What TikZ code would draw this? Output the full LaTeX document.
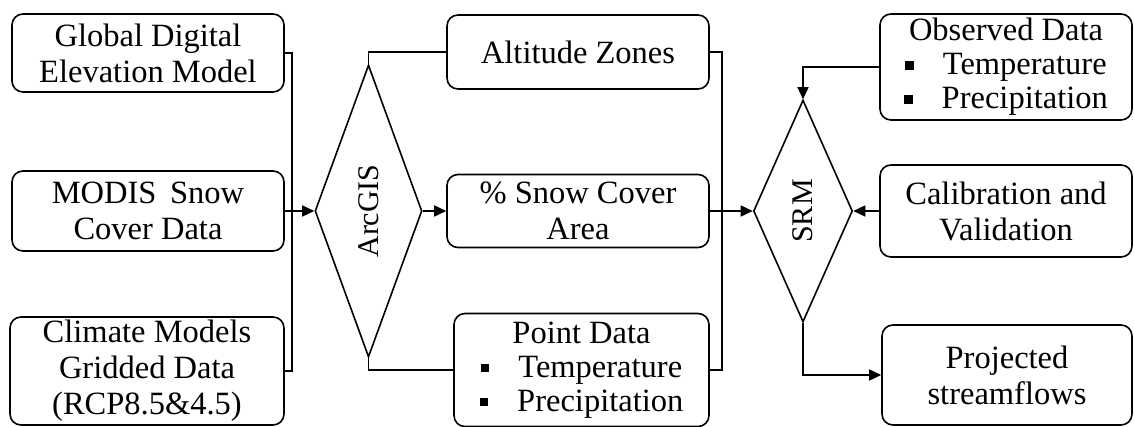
\documentclass[tikz,border=0pt]{standalone}
\usepackage{fontspec}
\setmainfont{Liberation Serif}
\usetikzlibrary{shapes.geometric,arrows.meta}
\newcommand{\bul}{\rule[5pt]{8.5pt}{8.5pt}\hspace{29pt}}
\tikzset{
  box/.style={draw, line width=1.6pt, rounded corners=11pt, inner sep=0pt, align=center,
    font=\fontsize{32.5}{36}\selectfont},
  bbox/.style={box, font=\fontsize{32.5}{34}\selectfont},
  dia/.style={draw, line width=1.6pt, shape=diamond, inner sep=0pt},
  dtext/.style={rotate=90, font=\fontsize{30}{34}\selectfont},
  conn/.style={line width=1.6pt},
  arr/.style={conn, -{Triangle[length=12pt,width=11pt]}}
}
\begin{document}
\begin{tikzpicture}[x=1pt,y=-1pt]
\useasboundingbox (0,0) rectangle (1134,427);
% left column
\node[box, minimum width=272pt, minimum height=78pt] (gdem) at (148,53) {Global Digital\\Elevation Model};
\node[box, minimum width=272pt, minimum height=80pt] (modis) at (148,211) {MODIS\, Snow\\Cover Data};
\node[box, minimum width=274pt, minimum height=108pt] (clim) at (147,371) {Climate Models\\Gridded Data\\(RCP8.5\&4.5)};
% ArcGIS
\node[dia, minimum width=107pt, minimum height=292pt] (arc) at (368.5,211) {};
\node[dtext] at (arc.center) {ArcGIS};
% middle column
\node[box, minimum width=262pt, minimum height=74pt] (alt) at (578,52) {Altitude Zones};
\node[box, minimum width=262pt, minimum height=73pt] (snow) at (578,211) {\% Snow Cover\\Area};
\node[bbox, minimum width=255pt, minimum height=113pt] (point) at (581.5,370) {Point Data\\\bul Temperature\\\bul Precipitation};
% SRM
\node[dia, minimum width=99pt, minimum height=222pt] (srm) at (803,211) {};
\node[dtext] at (srm.center) {SRM};
% right column
\node[bbox, minimum width=252pt, minimum height=106pt] (obs) at (1006,67) {Observed Data\\\bul Temperature\\\bul Precipitation};
\node[box, minimum width=252pt, minimum height=92pt] (cal) at (1006,211) {Calibration and\\Validation};
\node[box, minimum width=250pt, minimum height=100pt] (proj) at (1007,375) {Projected\\streamflows};
% connectors
\coordinate (b1) at (292,53);
\coordinate (b2) at (722,52);
\draw[conn] (gdem.east) -- (b1) |- (clim.east);
\draw[arr] (modis.east) -- (arc.west);
\draw[conn] (arc.north) |- (alt.west);
\draw[conn] (arc.south) |- (point.west);
\draw[arr] (arc.east) -- (snow.west);
\draw[conn] (alt.east) -- (b2) |- (point.east);
\draw[arr] (snow.east) -- (srm.west);
\draw[arr] (obs.west) -| (srm.north);
\draw[arr] (cal.west) -- (srm.east);
\draw[arr] (srm.south) |- (proj.west);
\end{tikzpicture}
\end{document}
